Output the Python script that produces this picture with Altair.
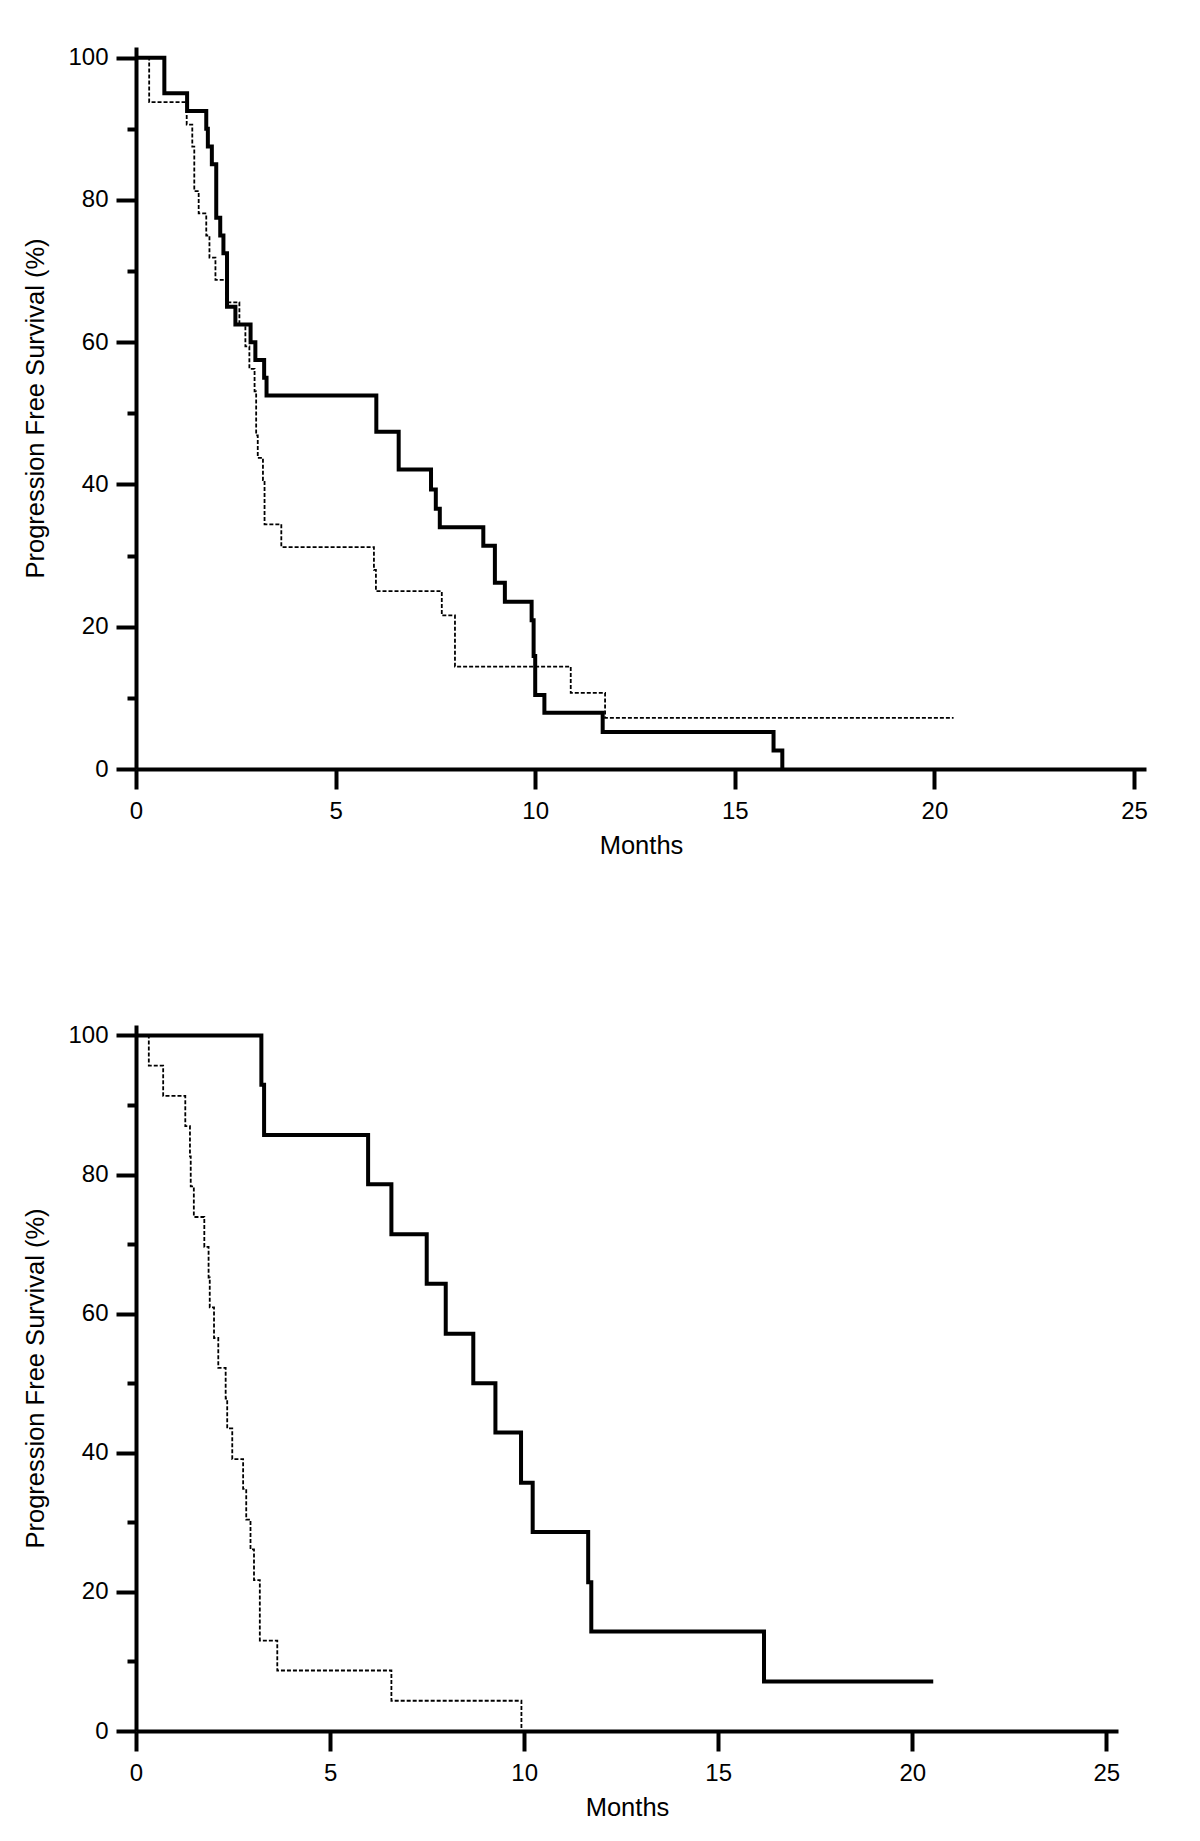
import altair as alt
import pandas as pd

# ---- axis values ----
x_ticks = [0, 5, 10, 15, 20, 25]
y_major = [0, 20, 40, 60, 80, 100]
y_minor = [10, 30, 50, 70, 90]
x_domain = [0, 25.3]
y_domain = [0, 101.5]

# ---- top panel: solid curve ----
top_solid_t = [0, 0.71, 1.28, 1.76, 1.80, 1.90, 2.01, 2.11, 2.19, 2.28, 2.49, 2.87, 2.99,
               3.21, 3.27, 6.02, 6.58, 7.39, 7.51, 7.61, 8.70, 8.99, 9.24, 9.91, 9.96,
               10.00, 10.23, 11.69, 15.97, 16.19]
top_solid_v = [100, 95, 92.5, 90, 87.5, 85, 77.5, 75, 72.5, 65, 62.5, 60, 57.5,
               55, 52.5, 47.4, 42.1, 39.3, 36.6, 34.0, 31.4, 26.2, 23.5, 20.9, 15.9,
               10.4, 7.9, 5.2, 2.6, 0]

# ---- top panel: dashed curve ----
top_dashed_t = [0, 0.33, 1.27, 1.41, 1.46, 1.57, 1.76, 1.84, 1.99, 2.26, 2.59, 2.74, 2.84,
                2.97, 3.01, 3.05, 3.18, 3.22, 3.64, 5.96, 6.01, 7.66, 7.99, 10.89, 11.75, 20.48]
top_dashed_v = [100, 93.75, 90.6, 87.5, 81.25, 78.1, 75, 71.9, 68.75, 65.6, 62.5, 59.4, 56.25,
                53.1, 46.9, 43.75, 40.6, 34.4, 31.2, 28.0, 25.0, 21.6, 14.4, 10.7, 7.2, 7.2]

# ---- bottom panel: solid curve ----
bot_solid_t = [0, 3.23, 3.30, 5.98, 6.58, 7.49, 7.98, 8.69, 9.26, 9.92, 10.22, 11.65,
               11.73, 16.18, 20.54]
bot_solid_v = [100, 92.9, 85.7, 78.6, 71.4, 64.3, 57.1, 50.0, 42.9, 35.7, 28.6, 21.4,
               14.3, 7.1, 7.1]

# ---- bottom panel: dashed curve ----
bot_dashed_t = [0, 0.33, 0.70, 1.27, 1.39, 1.41, 1.49, 1.76, 1.87, 1.90, 2.01, 2.12, 2.31,
                2.35, 2.48, 2.76, 2.84, 2.95, 3.04, 3.19, 3.64, 6.58, 9.93]
bot_dashed_v = [100, 95.65, 91.3, 86.96, 82.6, 78.3, 73.9, 69.6, 65.2, 60.9, 56.5, 52.2, 47.8,
                43.5, 39.1, 34.8, 30.4, 26.1, 21.7, 13.0, 8.7, 4.35, 0]

FONT = "Liberation Sans"


def panel(solid_t, solid_v, dashed_t, dashed_v, w, h):
    solid = pd.DataFrame({"t": solid_t, "v": solid_v})
    dashed = pd.DataFrame({"t": dashed_t, "v": dashed_v})
    x_enc = alt.X(
        "t:Q",
        scale=alt.Scale(domain=x_domain, nice=False, zero=False),
        axis=alt.Axis(values=x_ticks, title="Months", tickSize=20, labelPadding=10,
                      titlePadding=10, labelFlush=False, grid=False),
    )
    y_scale = alt.Scale(domain=y_domain, nice=False)
    dashed_layer = alt.Chart(dashed).mark_line(
        interpolate="step-after", color="black", strokeWidth=1.8, strokeDash=[4, 2]
    ).encode(
        x=x_enc,
        y=alt.Y("v:Q", scale=y_scale,
                axis=alt.Axis(orient="left", values=y_minor, tickSize=9, labels=False,
                              domain=False, title=None, grid=False)),
    )
    solid_layer = alt.Chart(solid).mark_line(
        interpolate="step-after", color="black", strokeWidth=4, strokeJoin="miter", strokeCap="butt"
    ).encode(
        x=x_enc,
        y=alt.Y("v:Q", scale=y_scale,
                axis=alt.Axis(orient="left", values=y_major, tickSize=20, labelPadding=8,
                              title="Progression Free Survival (%)", titlePadding=19, grid=False)),
    )
    return alt.layer(dashed_layer, solid_layer).resolve_axis(y="independent").properties(
        width=w, height=h
    )


top = panel(top_solid_t, top_solid_v, top_dashed_t, top_dashed_v, 1010, 722)
bottom = panel(bot_solid_t, bot_solid_v, bot_dashed_t, bot_dashed_v, 982, 706)

chart = alt.vconcat(top, bottom, spacing=164).properties(
    padding={"top": 37, "left": 15, "right": 5, "bottom": 5}
).configure_axis(
    domainWidth=4, domainColor="black", tickWidth=4, tickColor="black",
    labelFont=FONT, labelFontSize=24, labelColor="black",
    titleFont=FONT, titleFontSize=25.5, titleFontWeight="normal", titleColor="black",
).configure_view(stroke=None)

chart.save("out.html", embed_options={"renderer": "svg", "actions": False})
